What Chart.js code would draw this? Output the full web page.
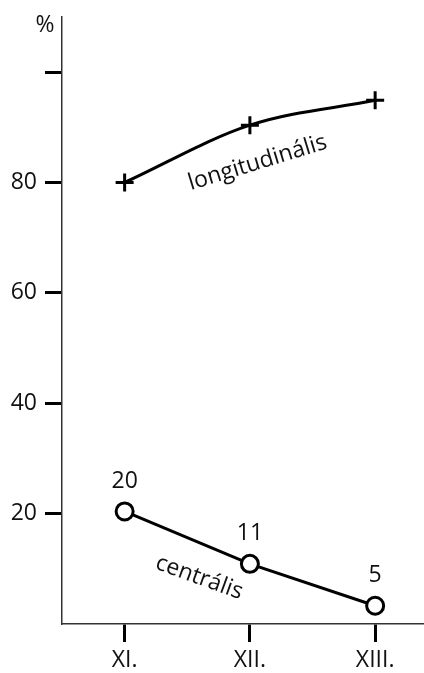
<!DOCTYPE html>
<html><head><meta charset="utf-8">
<script src="https://cdn.jsdelivr.net/npm/chart.js@4"></script>
<style>html,body{margin:0;padding:0;background:#fff;overflow:hidden}#wrap{width:424px;height:673px}</style>
</head><body><div id="wrap"><canvas id="c"></canvas></div>
<script>
const categories = ["XI.", "XII.", "XIII."];
const categoryX = [1, 2, 3];
const longitudinalValues = [80, 90.4, 94.9];
const centralValues = [20.4, 10.9, 3.3];
const centralLabels = ["20", "11", "5"];
const yTickValues = [20, 40, 60, 80, 100];
const yTickLabels = ["20", "40", "60", "80", ""];
const seriesNames = ["longitudinális", "centrális"];
const unitLabel = "%";

const FONT = "'Open Sans', 'Noto Sans', sans-serif";
const FS = 23;

const annotate = {
  id: 'annotate',
  afterDatasetsDraw(chart) {
    const ctx = chart.ctx, xs = chart.scales.x, ys = chart.scales.y;
    ctx.save();
    ctx.fillStyle = '#111';
    ctx.textAlign = 'center';
    ctx.textBaseline = 'middle';
    ctx.font = FS + "px " + FONT;
    centralValues.forEach((v, i) => {
      const px = xs.getPixelForValue(categoryX[i]);
      const py = ys.getPixelForValue(v);
      ctx.fillText(centralLabels[i], px, py - 30);
    });
    ctx.fillText(unitLabel, 45, 25);
    const lx = (xs.getPixelForValue(categoryX[1]) + xs.getPixelForValue(categoryX[2])) / 2 - 55;
    const ly = ys.getPixelForValue((longitudinalValues[1] + longitudinalValues[0]) / 2) + 9;
    ctx.save();
    ctx.translate(lx, ly);
    ctx.rotate(-17 * Math.PI / 180);
    ctx.fillText(seriesNames[0], 0, 0);
    ctx.restore();
    const cx = (xs.getPixelForValue(categoryX[0]) + xs.getPixelForValue(categoryX[1])) / 2 + 12;
    const cy = ys.getPixelForValue((centralValues[0] + centralValues[1]) / 2) + 40;
    ctx.save();
    ctx.translate(cx, cy);
    ctx.rotate(20 * Math.PI / 180);
    ctx.fillText(seriesNames[1], 0, 0);
    ctx.restore();
    ctx.restore();
  }
};

new Chart(document.getElementById('c'), {
  type: 'line',
  data: {
    datasets: [
      {
        label: seriesNames[0],
        data: categoryX.map((x, i) => ({x, y: longitudinalValues[i]})),
        borderColor: '#000', borderWidth: 3, cubicInterpolationMode: 'monotone',
        pointStyle: 'cross', pointRadius: 9, pointBorderWidth: 3,
        pointBorderColor: '#000', fill: false
      },
      {
        label: seriesNames[1],
        data: categoryX.map((x, i) => ({x, y: centralValues[i]})),
        borderColor: '#000', borderWidth: 3, tension: 0,
        pointStyle: 'circle', pointRadius: 8.5, pointBorderWidth: 3,
        pointBorderColor: '#000', pointBackgroundColor: '#fff', fill: false
      }
    ]
  },
  options: {
    responsive: true, maintainAspectRatio: false, animation: false,
    layout: { autoPadding: false, padding: { top: 17, right: 0, left: 0, bottom: 0 } },
    plugins: { legend: { display: false }, tooltip: { enabled: false } },
    scales: {
      x: {
        type: 'linear', min: 0.5, max: 3.39,
        afterBuildTicks: s => { s.ticks = categoryX.map(v => ({value: v})); },
        afterFit: s => { s.height = 49; s.paddingRight = 0; s.paddingLeft = 0; },
        ticks: { callback: (v, i) => categories[i], color: '#111', font: { size: FS, family: FONT }, padding: 5, maxRotation: 0 },
        grid: { drawOnChartArea: false, drawTicks: true, tickLength: 18, tickWidth: 3, tickColor: '#000' },
        border: { color: '#333', width: 1.5 }
      },
      y: {
        min: 0, max: 110,
        afterBuildTicks: s => { s.ticks = yTickValues.map(v => ({value: v})); },
        afterFit: s => { s.width = 62; s.paddingTop = 0; s.paddingBottom = 0; },
        ticks: { callback: (v, i) => yTickLabels[i], color: '#111', font: { size: FS, family: FONT }, padding: 8 },
        grid: { drawOnChartArea: false, drawTicks: true, tickLength: 17, tickWidth: 3, tickColor: '#000' },
        border: { color: '#333', width: 1.5 }
      }
    }
  },
  plugins: [annotate]
});
</script></body></html>
